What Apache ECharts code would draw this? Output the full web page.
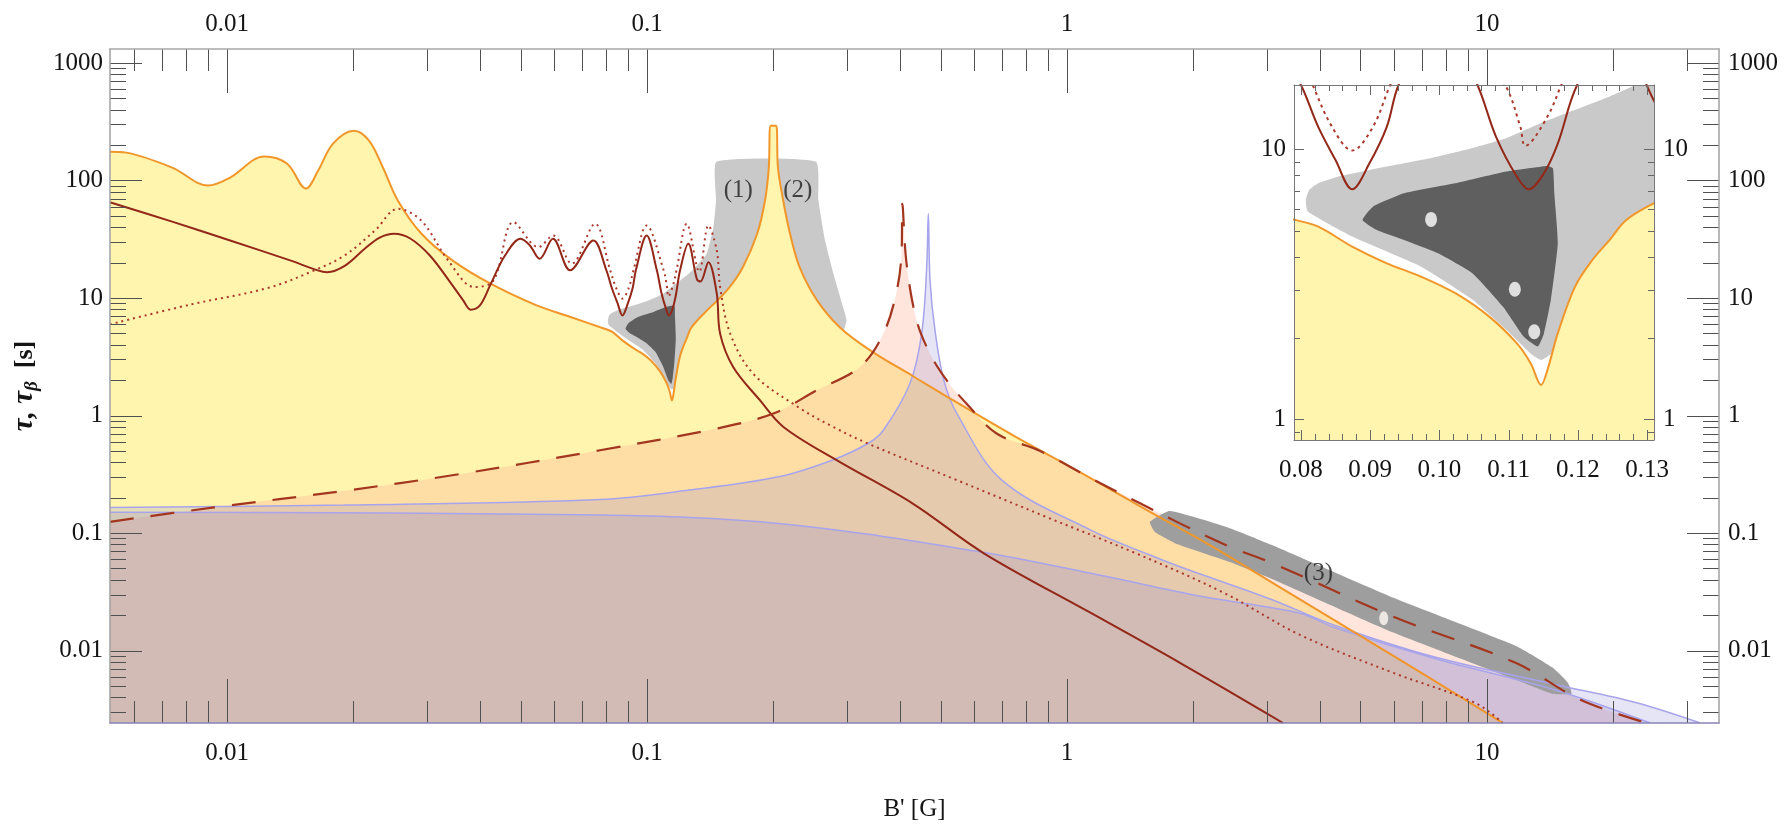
<!DOCTYPE html>
<html><head><meta charset="utf-8">
<script src="https://cdn.jsdelivr.net/npm/echarts@6/dist/echarts.min.js"></script>
<style>html,body{margin:0;padding:0;background:#fff}#c{width:1787px;height:826px}</style>
</head><body><div id="c"></div>
<script>
const tauOrange = [[0.00526,176],[0.00575,172.6],[0.0074,128.8],[0.00901,90.6],[0.01017,106],[0.01225,160],[0.0139,139],[0.01542,85.3],[0.01647,121],[0.01788,206],[0.02006,265],[0.02178,218],[0.0235,129],[0.0255,67.6],[0.029,35.4],[0.0344,20.9],[0.0423,13.3],[0.0544,8.7],[0.065,7.0],[0.0789,5.5],[0.0825,5.17],[0.0874,4.36],[0.0924,3.78],[0.0973,3.38],[0.1023,2.93],[0.1072,2.40],[0.1112,1.91],[0.1132,1.61],[0.1147,1.34],[0.1156,1.52],[0.1171,2.08],[0.1196,3.10],[0.1221,3.89],[0.1246,4.62],[0.127,5.47],[0.131,6.31],[0.139,7.85],[0.155,11.6],[0.169,18.2],[0.183,35.4],[0.191,67.6],[0.195,129],[0.197,293],[0.203,293],[0.205,129],[0.211,67.6],[0.219,35.4],[0.231,18.2],[0.254,9.55],[0.288,5.62],[0.34,3.59],[0.43,2.16],[0.535,1.35],[0.744,0.679],[1.074,0.330],[1.55,0.157],[2.23,0.076],[3.29,0.0328],[6.21,0.00834],[10.9,0.00243]];
const tauSolid = [[0.00526,65.3],[0.0074,44.7],[0.01017,30.9],[0.01413,20.9],[0.01644,17.2],[0.0173,16.6],[0.0191,18.9],[0.0213,26.4],[0.0231,32.7],[0.025,35.2],[0.0273,32.1],[0.0304,23.0],[0.034,13.6],[0.0365,9.55],[0.038,7.96],[0.04,8.65],[0.0423,12.8],[0.0459,23.0],[0.05,31.9],[0.0526,28.0],[0.0555,21.6],[0.0597,31.9],[0.0656,17.2],[0.0745,30.9],[0.08,17.3],[0.0825,12.1],[0.085,9.12],[0.0874,7.11],[0.0899,8.87],[0.0924,12.1],[0.0941,17.3],[0.0998,34.0],[0.1055,17.3],[0.1082,11.1],[0.1112,7.92],[0.1129,7.11],[0.1151,8.15],[0.1171,10.5],[0.1199,17.3],[0.1254,28.9],[0.1315,14.4],[0.134,13.8],[0.14,20.2],[0.1466,10.9],[0.1493,4.98],[0.1604,2.59],[0.1857,1.35],[0.2113,0.80],[0.2828,0.417],[0.4285,0.179],[0.634,0.0673],[1.14,0.0209],[1.858,0.00787],[3.27,0.00242]];
const tauDotted = [[0.00526,5.97],[0.00822,8.83],[0.01253,12.2],[0.01626,17.4],[0.01904,23.0],[0.0225,37.5],[0.0255,57.4],[0.029,45.6],[0.0336,20.9],[0.0388,12.4],[0.0431,14.1],[0.0481,44.2],[0.0551,27.1],[0.0598,34.0],[0.0662,19.6],[0.0752,42.8],[0.0817,17.3],[0.0845,12.1],[0.0874,9.89],[0.0904,12.1],[0.0929,17.3],[0.0998,41.4],[0.1095,17.3],[0.1117,12.1],[0.1124,10.3],[0.1156,13.2],[0.1176,17.3],[0.1243,42.8],[0.1332,16.8],[0.14,41.4],[0.1466,25.4],[0.1493,12.4],[0.1578,4.98],[0.179,2.27],[0.229,1.18],[0.2777,0.80],[0.3357,0.578],[0.547,0.282],[0.891,0.1375],[1.459,0.0673],[2.377,0.0307],[3.59,0.01359],[6.01,0.00643],[9.36,0.0036],[10.9,0.00243]];
const tauDashed = [[0.00526,0.1247],[0.00931,0.1653],[0.01904,0.2288],[0.0357,0.317],[0.0773,0.507],[0.1466,0.776],[0.2,1.04],[0.2536,1.64],[0.3214,2.59],[0.3655,4.98],[0.3934,11.6],[0.404,25.4],[0.4055,63.2],[0.415,19.6],[0.4385,6.45],[0.472,3.36],[0.517,2.0],[0.577,1.26],[0.68,0.703],[0.863,0.50],[1.156,0.285],[1.493,0.179],[1.858,0.1209],[2.443,0.0765],[3.08,0.0556],[6.01,0.0193],[11.7,0.00787],[16.7,0.00381],[23.9,0.00243]];
const tauBlueA = [[0.00526,0.1653],[0.019,0.173],[0.0773,0.193],[0.1259,0.232],[0.2056,0.301],[0.2758,0.417],[0.3357,0.578],[0.3655,0.75],[0.4227,1.87],[0.4508,4.98],[0.4634,18.3],[0.4676,52.0],[0.472,14.2],[0.485,5.31],[0.509,2.0],[0.547,1.04],[0.7,0.282],[1.14,0.106],[1.576,0.065],[1.858,0.0517],[3.08,0.0271],[4.3,0.0166],[7.48,0.00885],[14.6,0.00512],[22.7,0.0036],[32.1,0.00243]];
const tauBlueB = [[0.00526,0.1507],[0.0773,0.1422],[0.2056,0.1208],[0.62,0.0694],[1.14,0.0455],[2.1,0.0288],[3.59,0.0208],[4.3,0.0159],[7.48,0.0086],[14.6,0.0046],[24.4,0.00243]];
const grayRegion = [[0.0807,6.49],[0.0812,7.07],[0.0825,7.48],[0.0854,7.92],[0.0899,8.38],[0.0949,8.87],[0.0998,9.40],[0.1048,10.1],[0.1097,11.0],[0.1147,12.5],[0.1196,14.0],[0.1246,15.7],[0.129,17.6],[0.1387,23.8],[0.1439,40],[0.146,67.5],[0.1465,145],[0.2523,145],[0.256,67.5],[0.2655,30.8],[0.278,16.1],[0.293,8.37],[0.2985,6.45],[0.29,4.8],[0.25,4.8],[0.2,4.8],[0.15,4.8],[0.135,5.2],[0.131,5.9],[0.1246,4.36],[0.1206,3.19],[0.1181,2.33],[0.1161,1.75],[0.1147,1.66],[0.1132,1.75],[0.1097,2.14],[0.1048,2.77],[0.0973,3.68],[0.0874,4.75],[0.081,5.88]];
const darkRegion = [[0.0889,5.47],[0.0904,6.13],[0.0949,6.87],[0.1023,7.48],[0.1097,8.27],[0.1156,8.67],[0.1164,8.5],[0.1166,6.87],[0.1171,4.49],[0.1161,2.77],[0.1151,2.08],[0.1142,1.86],[0.1122,2.02],[0.1092,2.61],[0.1048,3.47],[0.0998,4.12],[0.0949,4.61],[0.0909,5.03]];
const region3 = [[1.576,0.1241],[1.758,0.1538],[2.443,0.1101],[3.076,0.0791],[6.01,0.0280],[11.72,0.01096],[14.3,0.0072],[15.6,0.0053],[15.9,0.0043],[14.3,0.0043],[11.72,0.00564],[6.01,0.01415],[3.076,0.0407],[2.443,0.0567],[1.807,0.0821],[1.62,0.1020]];
const mainDots = [[5.68,0.0188]];
const insetDots = [[0.0988,5.5],[0.1109,3.03],[0.1137,2.11]];
const annotations = [[0.165,82,'(1)'],[0.2286,82,'(2)'],[3.97,0.0457,'(3)']];
// axes
const mainXRange = [0.005263, 35.7], mainYRange = [0.00242, 1315];
const insetXRange = [0.079, 0.131], insetYRange = [0.838, 17.3];
const mainDecades = [0.001, 0.01, 0.1, 1, 10, 100, 1000];
const insetXMajor = [0.08, 0.09, 0.10, 0.11, 0.12, 0.13];
const insetYMajor = [1, 10];

// ---------- helpers ----------
const FAM = '"Liberation Serif","Times New Roman",serif';
function isPow10(v){ const l = Math.log10(v); return Math.abs(l - Math.round(l)) < 1e-6; }
function powLabel(v){ if (!isPow10(v)) return ''; const e = Math.round(Math.log10(v)); return e >= 0 ? String(Math.round(Math.pow(10, e))) : Math.pow(10, e).toFixed(-e); }
function inRange(v, r){ return v >= r[0] * 0.9999 && v <= r[1] * 1.0001; }

const mainTicks = [];
mainDecades.forEach(d => {
  for (let k = 1; k <= 9; k++) {
    const v = +(d * k).toPrecision(6);
    if (inRange(v, mainXRange)) mainTicks.push([v, v, 0, k === 1 ? 1 : 0]);
    if (inRange(v, mainYRange)) mainTicks.push([v, v, 1, k === 1 ? 1 : 0]);
  }
});
const insetTicks = [];
insetXMajor.forEach((m, i) => {
  insetTicks.push([m, 1, 0, 1]);
  if (i < insetXMajor.length - 1) for (let k = 1; k <= 4; k++) insetTicks.push([+(m + 0.002 * k).toFixed(4), 1, 0, 0]);
});
[0.1, 1].forEach(d => { for (let k = 2; k <= 9; k++) { const v = +(d * k).toPrecision(6); if (inRange(v, insetYRange)) insetTicks.push([0.1, v, 1, 0]); } });
insetYMajor.forEach(v => insetTicks.push([0.1, v, 1, 1]));

function tickRenderer(refX, refY, L, color) {
  return function (params, api) {
    const cs = params.coordSys;
    const kind = api.value(2), major = api.value(3);
    const st = { stroke: color, lineWidth: 1 };
    if (kind === 0) {
      const x = Math.round(api.coord([api.value(0), refY])[0]) + 0.5;
      const l = major ? L[0] : L[1];
      return { type: 'group', children: [
        { type: 'line', shape: { x1: x, y1: cs.y, x2: x, y2: cs.y + l }, style: st },
        { type: 'line', shape: { x1: x, y1: cs.y + cs.height, x2: x, y2: cs.y + cs.height - l }, style: st }
      ]};
    }
    const y = Math.round(api.coord([refX, api.value(1)])[1]) + 0.5;
    const l = major ? L[2] : L[3];
    return { type: 'group', children: [
      { type: 'line', shape: { x1: cs.x, y1: y, x2: cs.x + l, y2: y }, style: st },
      { type: 'line', shape: { x1: cs.x + cs.width, y1: y, x2: cs.x + cs.width - l, y2: y }, style: st }
    ]};
  };
}
function polygonRenderer(points, fill, z2) {
  return function (params, api) {
    if (params.dataIndex !== 0) return null;
    return { type: 'polygon', z2: z2 || 0, shape: { points: points.map(p => api.coord(p)), smooth: 0.15 }, style: { fill: fill } };
  };
}
function polySeries(points, fill, ax, z, z2) {
  return { type: 'custom', xAxisIndex: ax, yAxisIndex: ax, z: z, clip: true, silent: true, data: points, renderItem: polygonRenderer(points, fill, z2) };
}
const SM = 0.35;
function fillSeries(data, color, ax, z) {
  return { type: 'line', xAxisIndex: ax, yAxisIndex: ax, z: z, data: data, showSymbol: false, silent: true, smooth: SM,
    lineStyle: { width: 0, opacity: 0 }, areaStyle: { color: color, opacity: 1, origin: 'start' } };
}
function lineSeries(data, color, width, type, ax, z) {
  return { type: 'line', xAxisIndex: ax, yAxisIndex: ax, z: z, data: data, showSymbol: false, silent: true, smooth: SM,
    lineStyle: { color: color, width: width, type: type } };
}

const lbl = { fontFamily: FAM, fontSize: 25, color: '#141414' };
const C = { yellow: '#FFF5AF', pink: 'rgba(255,175,150,0.33)', blue: 'rgba(130,125,212,0.2)', gray: '#C9C9C9', dark: '#5F5F5F', g3: '#9E9E9E',
  orange: '#F0962A', solid: '#932718', dotted: '#AC372B', dashed: '#A3361F', blueLine: '#A7A4EC' };

const option = {
  animation: false,
  backgroundColor: '#fff',
  grid: [
    { left: 110, right: 68, top: 49, bottom: 103, containLabel: false, outerBoundsMode: 'none' },
    { left: 1294, right: 133, top: 85, bottom: 386, containLabel: false, outerBoundsMode: 'none', show: true, backgroundColor: '#fff', borderWidth: 0, z: 8 }
  ],
  xAxis: [
    { type: 'log', gridIndex: 0, position: 'bottom', min: mainXRange[0], max: mainXRange[1], z: 7,
      axisLine: { lineStyle: { color: '#8882b6', width: 1.5 } }, axisTick: { show: false }, splitLine: { show: false },
      axisLabel: Object.assign({ margin: 18, formatter: powLabel }, lbl),
      name: "B' [G]", nameLocation: 'middle', nameGap: 74, nameTextStyle: { fontFamily: FAM, fontSize: 25, color: '#141414' } },
    { type: 'log', gridIndex: 0, position: 'top', min: mainXRange[0], max: mainXRange[1], z: 7,
      axisLine: { lineStyle: { color: '#a8a8a8', width: 1.5 } }, axisTick: { show: false }, splitLine: { show: false },
      axisLabel: Object.assign({ margin: 12, formatter: powLabel }, lbl) },
    { type: 'value', gridIndex: 1, position: 'bottom', min: insetXRange[0], max: insetXRange[1], interval: 0.001, z: 12,
      axisLine: { lineStyle: { color: '#777', width: 1 } }, axisTick: { show: false }, splitLine: { show: false },
      axisLabel: Object.assign({ margin: 18, formatter: v => (Math.abs(v * 100 - Math.round(v * 100)) < 1e-6 ? v.toFixed(2) : '') }, lbl) },
    { type: 'value', gridIndex: 1, position: 'top', min: insetXRange[0], max: insetXRange[1], interval: 0.001, z: 12,
      axisLine: { lineStyle: { color: '#777', width: 1 } }, axisTick: { show: false }, splitLine: { show: false }, axisLabel: { show: false } }
  ],
  yAxis: [
    { type: 'log', gridIndex: 0, position: 'left', min: mainYRange[0], max: mainYRange[1], z: 7,
      axisLine: { lineStyle: { color: '#a0a0a0', width: 1.5 } }, axisTick: { show: false }, splitLine: { show: false },
      axisLabel: Object.assign({ margin: 7, formatter: powLabel }, lbl),
      name: '{t|τ, τ}{s|β}{u|  [s]}', nameLocation: 'middle', nameRotate: 90, nameGap: 68,
      nameTextStyle: { color: '#141414', rich: {
        t: { fontFamily: FAM, fontSize: 29, fontWeight: 'bold', fontStyle: 'italic', color: '#141414', lineHeight: 34, verticalAlign: 'middle' },
        s: { fontFamily: FAM, fontSize: 19, fontWeight: 'bold', fontStyle: 'italic', color: '#141414', lineHeight: 34, verticalAlign: 'bottom' },
        u: { fontFamily: FAM, fontSize: 26, fontWeight: 'bold', color: '#141414', lineHeight: 34, verticalAlign: 'middle' } } } },
    { type: 'log', gridIndex: 0, position: 'right', min: mainYRange[0], max: mainYRange[1], z: 7,
      axisLine: { lineStyle: { color: '#a0a0a0', width: 1.5 } }, axisTick: { show: false }, splitLine: { show: false },
      axisLabel: Object.assign({ margin: 9, formatter: powLabel }, lbl) },
    { type: 'log', gridIndex: 1, position: 'left', min: insetYRange[0], max: insetYRange[1], z: 12,
      axisLine: { lineStyle: { color: '#777', width: 1 } }, axisTick: { show: false }, splitLine: { show: false },
      axisLabel: Object.assign({ margin: 8, formatter: powLabel }, lbl) },
    { type: 'log', gridIndex: 1, position: 'right', min: insetYRange[0], max: insetYRange[1], z: 12,
      axisLine: { lineStyle: { color: '#777', width: 1 } }, axisTick: { show: false }, splitLine: { show: false },
      axisLabel: Object.assign({ margin: 9, formatter: powLabel }, lbl) }
  ],
  series: [
    // ---- main plot ----
    polySeries(grayRegion, C.gray, 0, 1, 0),
    polySeries(darkRegion, C.dark, 0, 1, 5),
    fillSeries(tauOrange, C.yellow, 0, 2),
    fillSeries(tauDashed, C.pink, 0, 3),
    fillSeries(tauBlueA, C.blue, 0, 3),
    fillSeries(tauBlueB, C.blue, 0, 3),
    polySeries(region3, C.g3, 0, 4, 0),
    lineSeries(tauBlueA, C.blueLine, 1.5, 'solid', 0, 5),
    lineSeries(tauBlueB, C.blueLine, 1.5, 'solid', 0, 5),
    lineSeries(tauOrange, C.orange, 2, 'solid', 0, 5),
    lineSeries(tauDotted, C.dotted, 2, [2, 4], 0, 5),
    lineSeries(tauSolid, C.solid, 2, 'solid', 0, 5),
    lineSeries(tauDashed, C.dashed, 2.2, [24, 17], 0, 5),
    { type: 'scatter', xAxisIndex: 0, yAxisIndex: 0, z: 6, silent: true, data: mainDots, symbol: 'circle', symbolSize: [9, 14], itemStyle: { color: '#FFF7F3' } },
    { type: 'scatter', xAxisIndex: 0, yAxisIndex: 0, z: 6, silent: true, symbolSize: 1, itemStyle: { color: 'rgba(0,0,0,0)' },
      data: annotations.map(a => ({ value: [a[0], a[1]], name: a[2] })),
      label: { show: true, position: 'inside', formatter: '{b}', fontFamily: FAM, fontSize: 25, color: '#1e1e1e' } },
    { type: 'custom', xAxisIndex: 0, yAxisIndex: 0, z: 7, silent: true, data: mainTicks, renderItem: tickRenderer(1, 1, [44, 22, 32, 16], '#505050') },
    // ---- inset ----
    polySeries(grayRegion, C.gray, 2, 9, 0),
    polySeries(darkRegion, C.dark, 2, 9, 5),
    fillSeries(tauOrange, C.yellow, 2, 10),
    lineSeries(tauOrange, C.orange, 2, 'solid', 2, 11),
    lineSeries(tauDotted, C.dotted, 2, [3, 4], 2, 11),
    lineSeries(tauSolid, C.solid, 2, 'solid', 2, 11),
    { type: 'scatter', xAxisIndex: 2, yAxisIndex: 2, z: 12, silent: true, data: insetDots, symbol: 'circle', symbolSize: [12, 15], itemStyle: { color: '#ffffff' } },
    { type: 'custom', xAxisIndex: 2, yAxisIndex: 2, z: 12, silent: true, data: insetTicks, renderItem: tickRenderer(0.1, 1, [10, 6, 10, 6], '#666') }
  ]
};
const chart = echarts.init(document.getElementById('c'), null, { renderer: 'canvas' });
chart.setOption(option);
</script></body></html>
